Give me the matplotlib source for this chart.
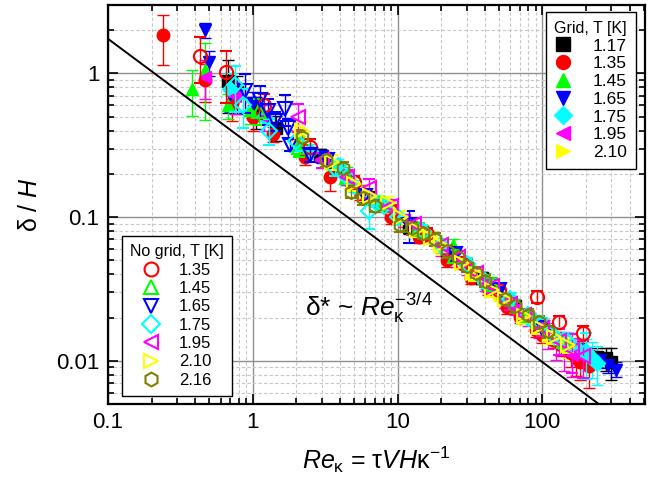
import matplotlib
matplotlib.use('Agg')
import matplotlib.pyplot as plt
from matplotlib.lines import Line2D
from matplotlib.ticker import LogLocator, FixedLocator, FixedFormatter, NullFormatter
import numpy as np

plt.rcParams['font.family'] = ['Liberation Sans', 'DejaVu Sans']
plt.rcParams['mathtext.fontset'] = 'custom'
plt.rcParams['mathtext.rm'] = 'Liberation Sans'
plt.rcParams['mathtext.it'] = 'Liberation Sans:italic'
plt.rcParams['mathtext.bf'] = 'Liberation Sans:bold'

# ---------------- data: Grid (filled markers) ----------------
g117_x = [0.68, 0.78, 1.05, 1.45, 2.9, 3.7, 6.5, 12, 22, 38, 65, 110, 180, 240, 275, 300]
g117_y = [0.88, 0.74, 0.55, 0.42, 0.27, 0.215, 0.14, 0.085, 0.057, 0.038, 0.024, 0.0158, 0.0118, 0.0106, 0.0104, 0.0098]
g117_e = [0.4, 0.3, 0.25, 0.2, 0.1, 0.1, 0.1, 0.1, 0.1, 0.1, 0.1, 0.1, 0.12, 0.15, 0.18, 0.25]

g135_x = [0.24, 0.47, 0.72, 1.0, 1.37, 2.3, 3.4, 5.5, 9, 14, 22, 32, 42, 57, 70, 90, 100, 119, 135, 157, 170, 183, 210]
g135_y = [1.85, 0.9, 0.62, 0.5, 0.38, 0.26, 0.19, 0.15, 0.1, 0.073, 0.05, 0.038, 0.032, 0.0237, 0.0203, 0.0163, 0.0152, 0.014, 0.0128, 0.0114, 0.0105, 0.0098, 0.0092]
g135_e = [0.38, 0.3, 0.25, 0.2, 0.12, 0.12, 0.2, 0.12, 0.1, 0.1, 0.1, 0.1, 0.1, 0.1, 0.1, 0.1, 0.12, 0.12, 0.15, 0.2, 0.25, 0.25, 0.3]

g145_x = [0.38, 0.47, 0.67, 0.95, 2.1, 4.5, 8, 15, 24, 40, 60, 90, 130, 170]
g145_y = [0.78, 1.05, 0.6, 0.56, 0.32, 0.2, 0.125, 0.08, 0.064, 0.037, 0.027, 0.0185, 0.0142, 0.0118]
g145_e = [0.35, 0.55, 0.2, 0.2, 0.15, 0.12, 0.1, 0.1, 0.1, 0.1, 0.1, 0.1, 0.12, 0.15]

g165_x = [0.47, 0.5, 0.7, 1.0, 3.0, 6, 12, 25, 50, 100, 200, 250, 285, 320]
g165_y = [2.0, 1.2, 0.72, 0.62, 0.265, 0.14, 0.09, 0.053, 0.03, 0.0172, 0.0112, 0.0102, 0.0094, 0.0087]
g165_e = [0.12, 0.2, 0.25, 0.2, 0.1, 0.1, 0.1, 0.1, 0.1, 0.1, 0.1, 0.12, 0.12, 0.12]

g175_x = [0.7, 1.2, 2.5, 3.9, 5, 7, 10, 15, 20, 30, 40, 60, 80, 100, 120, 150, 180, 200, 220, 240]
g175_y = [0.78, 0.5, 0.29, 0.23, 0.165, 0.13, 0.1, 0.079, 0.063, 0.046, 0.035, 0.026, 0.02, 0.0178, 0.015, 0.0135, 0.0118, 0.0113, 0.0105, 0.0097]
g175_e = [0.3, 0.2, 0.12, 0.1, 0.1, 0.1, 0.1, 0.1, 0.1, 0.1, 0.1, 0.1, 0.1, 0.1, 0.12, 0.15, 0.2, 0.25, 0.28, 0.3]

g195_x = [0.47, 0.75, 1.2, 2.0, 3, 4.5, 6, 8, 11, 15, 20, 30, 40, 55, 65, 80, 95, 110, 125, 140, 160]
g195_y = [0.95, 0.7, 0.5, 0.35, 0.25, 0.19, 0.14, 0.12, 0.095, 0.075, 0.06, 0.044, 0.034, 0.026, 0.023, 0.02, 0.017, 0.0152, 0.0135, 0.0122, 0.011]
g195_e = [0.3, 0.25, 0.2, 0.15, 0.12, 0.12, 0.1, 0.1, 0.1, 0.1, 0.1, 0.1, 0.1, 0.1, 0.1, 0.12, 0.15, 0.2, 0.25, 0.3, 0.3]

g210_x = [2.1, 3.5, 6, 9, 14, 20, 32, 50, 75, 110, 150]
g210_y = [0.37, 0.24, 0.15, 0.115, 0.08, 0.062, 0.04, 0.029, 0.02, 0.0148, 0.0124]
g210_e = [0.15, 0.12, 0.1, 0.1, 0.1, 0.1, 0.1, 0.1, 0.1, 0.12, 0.15]

# ---------------- data: No grid (open markers) ----------------
n135_x = [0.43, 0.65, 1.2, 2.5, 5, 9, 16, 28, 50, 92, 130, 192]
n135_y = [1.33, 1.03, 0.6, 0.31, 0.175, 0.11, 0.076, 0.048, 0.031, 0.028, 0.0185, 0.0157]
n135_e = [0.35, 0.4, 0.2, 0.12, 0.1, 0.1, 0.1, 0.1, 0.1, 0.1, 0.1, 0.12]

n145_x = [1.1, 2.1, 4.5, 8, 14, 25, 45, 80, 140]
n145_y = [0.55, 0.31, 0.19, 0.125, 0.083, 0.054, 0.034, 0.021, 0.0138]
n145_e = [0.2, 0.15, 0.12, 0.1, 0.1, 0.1, 0.1, 0.1, 0.12]

n165_x = [0.88, 1.12, 1.27, 1.42, 1.66, 1.75, 1.8, 2.5, 3.25, 6, 12, 25, 50, 100]
n165_y = [0.76, 0.65, 0.55, 0.47, 0.57, 0.42, 0.32, 0.27, 0.25, 0.14, 0.088, 0.055, 0.031, 0.017]
n165_e = [0.3, 0.25, 0.2, 0.15, 0.25, 0.15, 0.1, 0.1, 0.1, 0.1, 0.25, 0.1, 0.1, 0.1]

n175_x = [0.75, 0.85, 1.3, 2, 3.7, 4.5, 6.4, 8, 10, 15, 20, 30, 40, 60, 80, 100, 120, 150, 200]
n175_y = [0.83, 0.6, 0.4, 0.34, 0.22, 0.19, 0.11, 0.12, 0.1, 0.079, 0.064, 0.047, 0.036, 0.027, 0.021, 0.018, 0.015, 0.0135, 0.0115]
n175_e = [0.35, 0.3, 0.2, 0.15, 0.12, 0.12, 0.25, 0.1, 0.1, 0.1, 0.1, 0.1, 0.1, 0.1, 0.1, 0.1, 0.12, 0.15, 0.35]

n195_x = [2.05, 3, 4.5, 6.4, 9, 13, 20, 26, 35, 45, 60, 75, 100, 130, 160, 190]
n195_y = [0.5, 0.25, 0.19, 0.16, 0.12, 0.09, 0.064, 0.053, 0.041, 0.033, 0.025, 0.021, 0.0168, 0.0138, 0.0118, 0.0108]
n195_e = [0.22, 0.12, 0.12, 0.15, 0.1, 0.1, 0.1, 0.1, 0.1, 0.1, 0.1, 0.1, 0.12, 0.2, 0.3, 0.3]

n210_x = [2.2, 3.5, 5, 6.5, 8.6, 10.5, 13.6, 17, 20, 28, 35, 45, 55, 75, 95, 120, 150]
n210_y = [0.4, 0.24, 0.17, 0.14, 0.125, 0.1, 0.081, 0.072, 0.064, 0.048, 0.04, 0.031, 0.027, 0.0205, 0.0172, 0.0146, 0.0128]
n210_e = [0.15, 0.12, 0.1, 0.1, 0.1, 0.1, 0.1, 0.1, 0.1, 0.1, 0.1, 0.1, 0.1, 0.1, 0.1, 0.1, 0.12]

n216_x = [2.2, 3.2, 4.2, 4.8, 5.8, 7, 10.4, 12.5, 15, 18, 22, 26, 30, 35, 40, 55, 65, 80, 95, 110]
n216_y = [0.36, 0.25, 0.22, 0.15, 0.135, 0.12, 0.088, 0.084, 0.078, 0.07, 0.058, 0.053, 0.046, 0.041, 0.036, 0.027, 0.024, 0.021, 0.0185, 0.016]
n216_e = [0.12, 0.1, 0.1, 0.1, 0.1, 0.1, 0.1, 0.1, 0.1, 0.1, 0.1, 0.1, 0.1, 0.1, 0.1, 0.1, 0.1, 0.1, 0.1, 0.1]

grid_labels = ['1.17', '1.35', '1.45', '1.65', '1.75', '1.95', '2.10']
nogrid_labels = ['1.35', '1.45', '1.65', '1.75', '1.95', '2.10', '2.16']

# power law reference line delta* ~ Re^-3/4
line_coef = 0.31
line_exp = -0.75

# ---------------- styles ----------------
grid_series = [
    (g117_x, g117_y, g117_e, 's', '#000000'),
    (g135_x, g135_y, g135_e, 'o', '#FF0000'),
    (g145_x, g145_y, g145_e, '^', '#00FF00'),
    (g165_x, g165_y, g165_e, 'v', '#0000FF'),
    (g175_x, g175_y, g175_e, 'D', '#00FFFF'),
    (g195_x, g195_y, g195_e, '<', '#FF00FF'),
    (g210_x, g210_y, g210_e, '>', '#FFFF00'),
]
nogrid_series = [
    (n135_x, n135_y, n135_e, 'o', '#FF0000'),
    (n145_x, n145_y, n145_e, '^', '#00FF00'),
    (n165_x, n165_y, n165_e, 'v', '#0000FF'),
    (n175_x, n175_y, n175_e, 'D', '#00FFFF'),
    (n195_x, n195_y, n195_e, '<', '#FF00FF'),
    (n210_x, n210_y, n210_e, '>', '#FFFF00'),
    (n216_x, n216_y, n216_e, 'h', '#808000'),
]

fig = plt.figure(figsize=(6.54, 4.88), dpi=100)
ax = fig.add_axes([0.165, 0.172, 0.821, 0.818])

ax.set_xscale('log')
ax.set_yscale('log')
ax.set_xlim(0.1, 510)
ax.set_ylim(0.005, 3.0)

# grid lines
ax.grid(True, which='major', color='#909090', linestyle='-', linewidth=1.0, zorder=0)
ax.grid(True, which='minor', color='#c8c8c8', linestyle=(0, (3, 2)), linewidth=0.8, zorder=0)
ax.set_axisbelow(True)

for xs, ys, es, m, c in grid_series:
    xs = np.array(xs); ys = np.array(ys); es = np.array(es)
    ax.errorbar(xs, ys, yerr=ys * es, fmt=m, color=c, mfc=c, mec=c, ms=9 if m != 'D' else 8,
                ecolor=c, elinewidth=1.0, capsize=4, capthick=1.0, zorder=3)

for xs, ys, es, m, c in nogrid_series:
    xs = np.array(xs); ys = np.array(ys); es = np.array(es)
    ax.errorbar(xs, ys, yerr=ys * es, fmt=m, color=c, mfc='none', mec=c, mew=1.5,
                ms=9.5 if m != 'D' else 8.5,
                ecolor=c, elinewidth=1.0, capsize=4, capthick=1.0, zorder=4)

xl = np.array([0.1, 600.0])
ax.plot(xl, line_coef * xl ** line_exp, color='black', linewidth=1.4, zorder=5)

ax.text(6.3, 0.0205, r'δ* ~ $\mathit{Re}_{\mathrm{κ}}^{\mathrm{-3/4}}$', fontsize=19, ha='center',
        va='baseline', zorder=6)

# ticks
ax.xaxis.set_major_locator(FixedLocator([0.1, 1, 10, 100]))
ax.xaxis.set_major_formatter(FixedFormatter(['0.1', '1', '10', '100']))
ax.xaxis.set_minor_locator(LogLocator(base=10, subs=np.arange(2, 10), numticks=20))
ax.xaxis.set_minor_formatter(NullFormatter())
ax.yaxis.set_major_locator(FixedLocator([0.01, 0.1, 1]))
ax.yaxis.set_major_formatter(FixedFormatter(['0.01', '0.1', '1']))
ax.yaxis.set_minor_locator(LogLocator(base=10, subs=np.arange(2, 10), numticks=20))
ax.yaxis.set_minor_formatter(NullFormatter())
ax.tick_params(which='both', direction='in', top=True, right=True, width=1.2)
ax.tick_params(which='major', length=7, labelsize=16, pad=6)
ax.tick_params(which='minor', length=4)
for s in ax.spines.values():
    s.set_linewidth(1.6)

ax.set_ylabel('δ / $\\mathit{H}$', fontsize=18, labelpad=10)
ax.set_xlabel(r'$\mathit{Re}_{\mathrm{κ}}$ = $\mathrm{τ}\mathit{VH}\mathrm{κ}^{\mathrm{-1}}$', fontsize=18, labelpad=8)

# legends
gh = [Line2D([], [], linestyle='none', marker=m, color=c, mfc=c, mec=c, ms=10 if m != 'D' else 9)
      for _, _, _, m, c in grid_series]
leg1 = ax.legend(gh, grid_labels, title='Grid, T [K]', loc='upper right',
                 bbox_to_anchor=(0.983, 0.982), borderaxespad=0, fontsize=12.5,
                 title_fontsize=11.5, frameon=True, fancybox=False, framealpha=1,
                 edgecolor='black', handlelength=1.0, handletextpad=1.2,
                 labelspacing=0.15, borderpad=0.5)
leg1.get_frame().set_linewidth(1.0)
ax.add_artist(leg1)

nh = [Line2D([], [], linestyle='none', marker=m, color=c, mfc='none', mec=c, mew=1.5,
             ms=10 if m != 'D' else 9)
      for _, _, _, m, c in nogrid_series]
leg2 = ax.legend(nh, nogrid_labels, title='No grid, T [K]', loc='lower left',
                 bbox_to_anchor=(0.026, 0.02), borderaxespad=0, fontsize=12,
                 title_fontsize=11.5, frameon=True, fancybox=False, framealpha=1,
                 edgecolor='black', handlelength=1.0, handletextpad=1.2,
                 labelspacing=0.2, borderpad=0.5)
leg2.get_frame().set_linewidth(1.0)
leg2.set_zorder(10)
leg1.set_zorder(10)

fig.savefig('out.png', dpi=100)
